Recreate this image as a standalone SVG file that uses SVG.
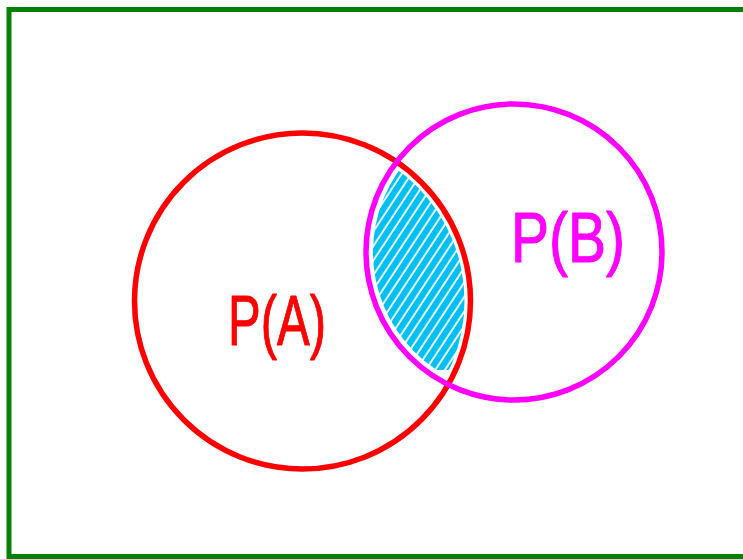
<svg xmlns="http://www.w3.org/2000/svg" width="743" height="559" viewBox="0 0 743 559">
<style>
.lbl{font-family:"Liberation Sans",Arial,sans-serif;font-size:70px;stroke-width:1;stroke-linejoin:round}
</style>
<defs>
<pattern id="hatch" width="8" height="8" patternUnits="userSpaceOnUse" patternTransform="rotate(33.4)">
<rect x="0" y="0" width="6.2" height="8" fill="#00BFF3"/>
</pattern>
<clipPath id="cA"><circle cx="302.5" cy="301" r="162"/></clipPath>
<clipPath id="cB"><circle cx="514" cy="252" r="141"/></clipPath>
</defs>
<rect width="743" height="559" fill="#ffffff"/>
<rect id="frame" x="9" y="9.5" width="800" height="547" fill="none" stroke="#068006" stroke-width="5"/>
<g id="intersection" clip-path="url(#cA)">
<g clip-path="url(#cB)">
<rect x="350" y="170" width="130" height="200" fill="url(#hatch)"/>
</g>
</g>
<g id="A">
<circle cx="302.5" cy="301" r="168" fill="none" stroke="#ff0000" stroke-width="5.5"/>
<text class="lbl" x="277" y="345" text-anchor="middle" fill="#ff0000" stroke="#ff0000" textLength="98" lengthAdjust="spacingAndGlyphs">P(A)</text>
</g>
<g id="B">
<circle cx="514" cy="252" r="148" fill="none" stroke="#ff00ff" stroke-width="5.5"/>
<text class="lbl" x="568" y="262" text-anchor="middle" fill="#ff00ff" stroke="#ff00ff" textLength="114" lengthAdjust="spacingAndGlyphs">P(B)</text>
</g>
</svg>
